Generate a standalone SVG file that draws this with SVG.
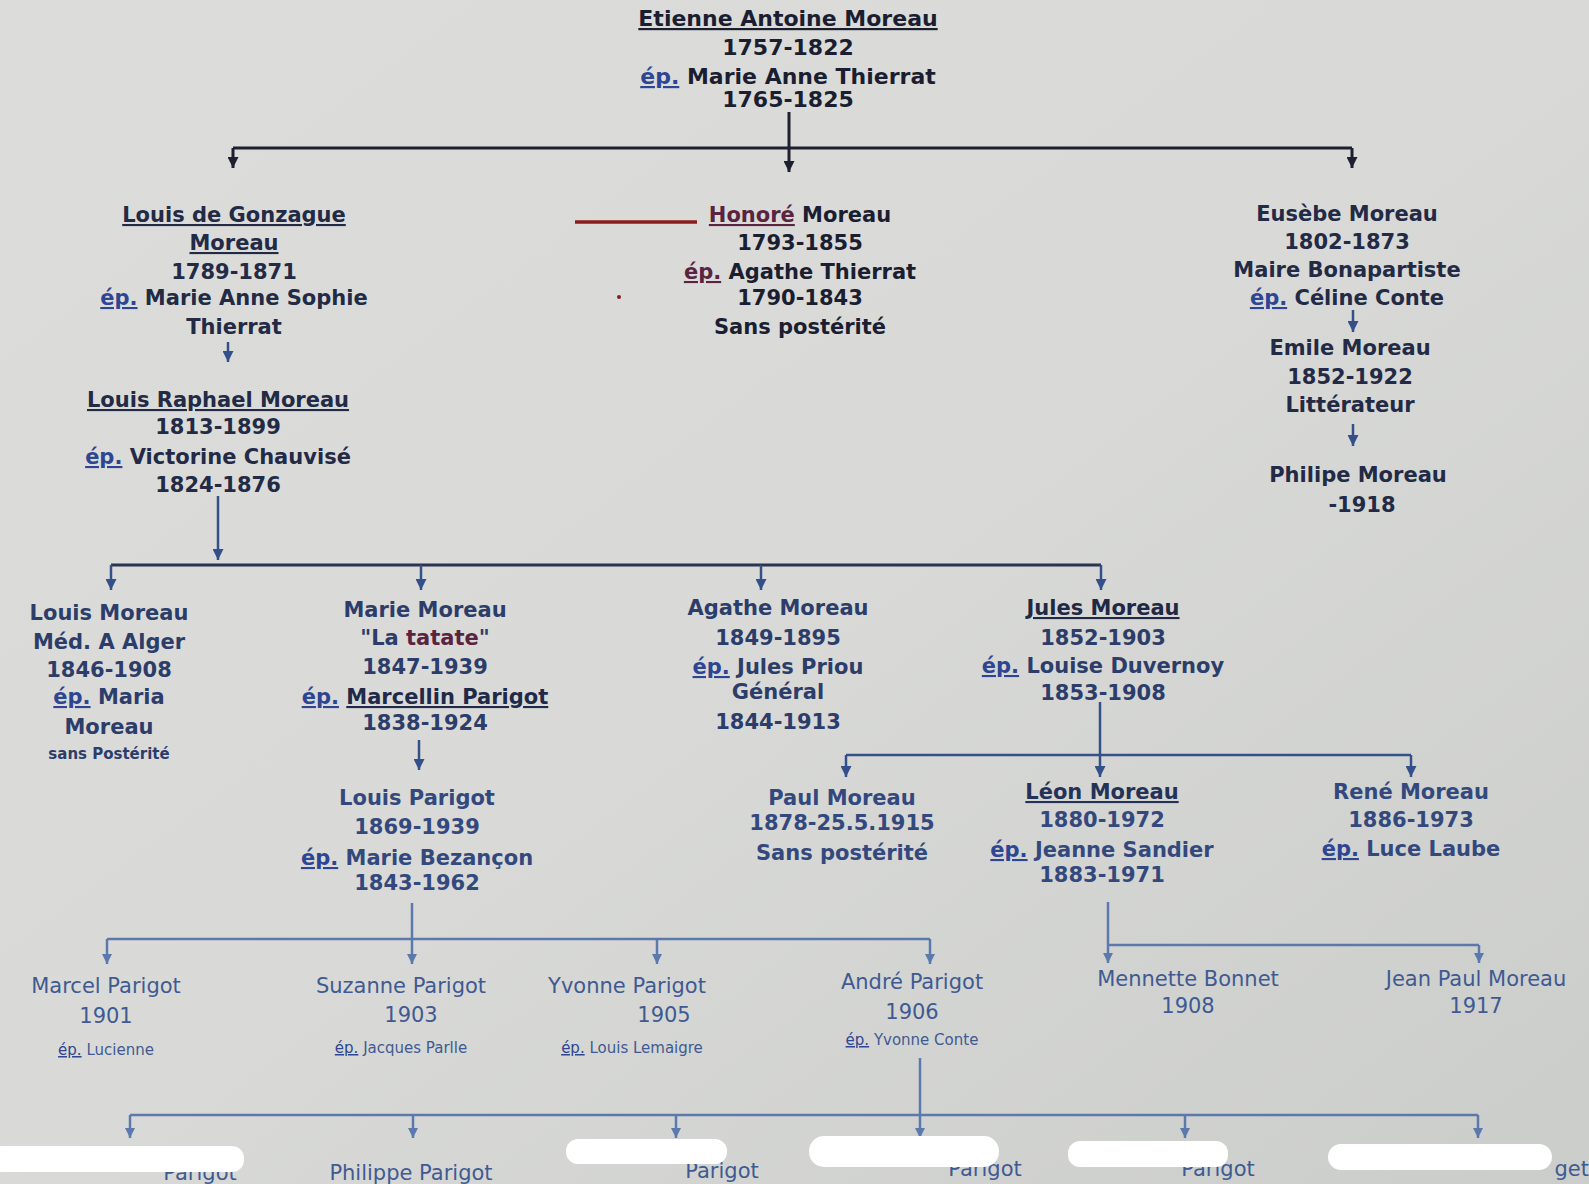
<svg xmlns="http://www.w3.org/2000/svg" width="1589" height="1184" viewBox="0 0 1589 1184">
<defs>
<linearGradient id="bg" x1="0" y1="0" x2="1" y2="1">
<stop offset="0" stop-color="#dcdddb"/>
<stop offset="0.5" stop-color="#d9dad7"/>
<stop offset="1" stop-color="#cbcdca"/>
</linearGradient>
<marker id="ad" viewBox="0 0 10 10" refX="5" refY="10" markerWidth="11" markerHeight="11" markerUnits="userSpaceOnUse">
<path d="M0,0 L10,0 L5,10 Z" fill="#1c2030"/>
</marker>
<marker id="ab" viewBox="0 0 10 10" refX="5" refY="10" markerWidth="11" markerHeight="11" markerUnits="userSpaceOnUse">
<path d="M0,0 L10,0 L5,10 Z" fill="#34508a"/>
</marker>
<marker id="al" viewBox="0 0 10 10" refX="5" refY="10" markerWidth="10" markerHeight="10" markerUnits="userSpaceOnUse">
<path d="M0,0 L10,0 L5,10 Z" fill="#5b79ad"/>
</marker>
</defs>
<style>
text{font-family:"DejaVu Sans","Liberation Sans",sans-serif;font-size:21px;font-weight:bold;text-anchor:middle;fill:#222a45}
.t1 text{fill:#1a1e30}
.big text{font-size:22px}
.t3 text{fill:#2c3d6a}
.t4 text{fill:#33497e}
.t5 text{fill:#3f5a92;font-weight:normal}
.sm{font-size:15px}
.u{text-decoration:underline}
.ep{fill:#2d4592;text-decoration:underline}
.red{fill:#5a2440}
.cd{fill:none;stroke:#1c2030;stroke-width:3}
.cb{fill:none;stroke:#34508a;stroke-width:2.5}
.cl{fill:none;stroke:#5b79ad;stroke-width:2.5}
.blob{fill:#ffffff}
</style>
<rect width="1589" height="1184" fill="url(#bg)"/>

<g id="connectors">
<path class="cd" d="M233,148 H1352"/>
<path class="cd" d="M789,112 V172" marker-end="url(#ad)"/>
<path class="cd" d="M233,148 V168" marker-end="url(#ad)"/>
<path class="cd" d="M1352,148 V168" marker-end="url(#ad)"/>
<path class="cb" d="M228,342 V362" marker-end="url(#ab)"/>
<path class="cb" d="M1353,310 V332" marker-end="url(#ab)"/>
<path class="cb" d="M1353,424 V446" marker-end="url(#ab)"/>
<path class="cb" d="M218,496 V560" marker-end="url(#ab)"/>
<path class="cd" style="stroke:#2a3350" d="M111,565 H1101"/>
<path class="cb" d="M111,565 V590" marker-end="url(#ab)"/>
<path class="cb" d="M421,565 V590" marker-end="url(#ab)"/>
<path class="cb" d="M761,565 V590" marker-end="url(#ab)"/>
<path class="cb" d="M1101,565 V590" marker-end="url(#ab)"/>
<path class="cb" d="M419,740 V770" marker-end="url(#ab)"/>
<path class="cb" d="M1100,702 V777" marker-end="url(#ab)"/>
<path class="cb" d="M846,755 H1411"/>
<path class="cb" d="M846,755 V777" marker-end="url(#ab)"/>
<path class="cb" d="M1411,755 V777" marker-end="url(#ab)"/>
<path class="cl" d="M412,903 V964" marker-end="url(#al)"/>
<path class="cl" d="M107,939 H930"/>
<path class="cl" d="M107,939 V964" marker-end="url(#al)"/>
<path class="cl" d="M657,939 V964" marker-end="url(#al)"/>
<path class="cl" d="M930,939 V964" marker-end="url(#al)"/>
<path class="cl" d="M1108,902 V963" marker-end="url(#al)"/>
<path class="cl" d="M1108,945 H1479"/>
<path class="cl" d="M1479,945 V963" marker-end="url(#al)"/>
<path class="cl" d="M920,1058 V1138" marker-end="url(#al)"/>
<path class="cl" d="M130,1115 H1478"/>
<path class="cl" d="M130,1115 V1138" marker-end="url(#al)"/>
<path class="cl" d="M413,1115 V1138" marker-end="url(#al)"/>
<path class="cl" d="M676,1115 V1138" marker-end="url(#al)"/>
<path class="cl" d="M1185,1115 V1138" marker-end="url(#al)"/>
<path class="cl" d="M1478,1115 V1138" marker-end="url(#al)"/>
<path d="M575,222 H697" stroke="#8a1c1c" stroke-width="3.5" fill="none"/>
<circle cx="619" cy="297" r="2" fill="#8a1c1c"/>
</g>

<g id="etienne" class="t1 big">
<text x="788" y="26" class="u">Etienne Antoine Moreau</text>
<text x="788" y="55">1757-1822</text>
<text x="788" y="84"><tspan class="ep">ép.</tspan> Marie Anne Thierrat</text>
<text x="788" y="107">1765-1825</text>
</g>

<g id="louis-gonzague">
<text x="234" y="222" class="u">Louis de Gonzague</text>
<text x="234" y="250" class="u">Moreau</text>
<text x="234" y="279">1789-1871</text>
<text x="234" y="305"><tspan class="ep">ép.</tspan> Marie Anne Sophie</text>
<text x="234" y="334">Thierrat</text>
</g>

<g id="louis-raphael">
<text x="218" y="407" class="u">Louis Raphael Moreau</text>
<text x="218" y="434">1813-1899</text>
<text x="218" y="464"><tspan class="ep">ép.</tspan> Victorine Chauvisé</text>
<text x="218" y="492">1824-1876</text>
</g>

<g id="honore" class="t1">
<text x="800" y="222"><tspan class="red u">Honoré</tspan> Moreau</text>
<text x="800" y="250">1793-1855</text>
<text x="800" y="279"><tspan class="red u">ép.</tspan> Agathe Thierrat</text>
<text x="800" y="305">1790-1843</text>
<text x="800" y="334">Sans postérité</text>
</g>

<g id="eusebe">
<text x="1347" y="221">Eusèbe Moreau</text>
<text x="1347" y="249">1802-1873</text>
<text x="1347" y="277">Maire Bonapartiste</text>
<text x="1347" y="305"><tspan class="ep">ép.</tspan> Céline Conte</text>
</g>

<g id="emile">
<text x="1350" y="355">Emile Moreau</text>
<text x="1350" y="384">1852-1922</text>
<text x="1350" y="412">Littérateur</text>
</g>

<g id="philipe">
<text x="1358" y="482">Philipe Moreau</text>
<text x="1362" y="512">-1918</text>
</g>

<g id="louis-moreau" class="t3">
<text x="109" y="620">Louis Moreau</text>
<text x="109" y="649">Méd. A Alger</text>
<text x="109" y="677">1846-1908</text>
<text x="109" y="704"><tspan class="ep">ép.</tspan> Maria</text>
<text x="109" y="734">Moreau</text>
<text x="109" y="759" class="sm">sans Postérité</text>
</g>

<g id="marie-moreau" class="t3">
<text x="425" y="617">Marie Moreau</text>
<text x="425" y="645">"La <tspan class="red">tatate</tspan>"</text>
<text x="425" y="674">1847-1939</text>
<text x="425" y="704"><tspan class="ep">ép.</tspan> <tspan class="u" style="fill:#1f2a4a">Marcellin Parigot</tspan></text>
<text x="425" y="730">1838-1924</text>
</g>

<g id="agathe-moreau" class="t3">
<text x="778" y="615">Agathe Moreau</text>
<text x="778" y="645">1849-1895</text>
<text x="778" y="674"><tspan class="ep">ép.</tspan> Jules Priou</text>
<text x="778" y="699">Général</text>
<text x="778" y="729">1844-1913</text>
</g>

<g id="jules-moreau" class="t3">
<text x="1103" y="615" class="u" style="fill:#1f2845">Jules Moreau</text>
<text x="1103" y="645">1852-1903</text>
<text x="1103" y="673"><tspan class="ep">ép.</tspan> Louise Duvernoy</text>
<text x="1103" y="700">1853-1908</text>
</g>

<g id="louis-parigot" class="t4">
<text x="417" y="805">Louis Parigot</text>
<text x="417" y="834">1869-1939</text>
<text x="417" y="865"><tspan class="ep">ép.</tspan> Marie Bezançon</text>
<text x="417" y="890">1843-1962</text>
</g>

<g id="paul-moreau" class="t4">
<text x="842" y="805">Paul Moreau</text>
<text x="842" y="830">1878-25.5.1915</text>
<text x="842" y="860">Sans postérité</text>
</g>

<g id="leon-moreau" class="t4">
<text x="1102" y="799" class="u" style="fill:#243258">Léon Moreau</text>
<text x="1102" y="827">1880-1972</text>
<text x="1102" y="857"><tspan class="ep">ép.</tspan> Jeanne Sandier</text>
<text x="1102" y="882">1883-1971</text>
</g>

<g id="rene-moreau" class="t4">
<text x="1411" y="799">René Moreau</text>
<text x="1411" y="827">1886-1973</text>
<text x="1411" y="856"><tspan class="ep">ép.</tspan> Luce Laube</text>
</g>

<g id="marcel-parigot" class="t5">
<text x="106" y="993">Marcel Parigot</text>
<text x="106" y="1023">1901</text>
<text x="106" y="1055" class="sm"><tspan class="ep">ép.</tspan> Lucienne</text>
</g>

<g id="suzanne-parigot" class="t5">
<text x="401" y="993">Suzanne Parigot</text>
<text x="411" y="1022">1903</text>
<text x="401" y="1053" class="sm"><tspan class="ep">ép.</tspan> Jacques Parlle</text>
</g>

<g id="yvonne-parigot" class="t5">
<text x="627" y="993">Yvonne Parigot</text>
<text x="664" y="1022">1905</text>
<text x="632" y="1053" class="sm"><tspan class="ep">ép.</tspan> Louis Lemaigre</text>
</g>

<g id="andre-parigot" class="t5">
<text x="912" y="989">André Parigot</text>
<text x="912" y="1019">1906</text>
<text x="912" y="1045" class="sm"><tspan class="ep">ép.</tspan> Yvonne Conte</text>
</g>

<g id="mennette-bonnet" class="t5">
<text x="1188" y="986">Mennette Bonnet</text>
<text x="1188" y="1013">1908</text>
</g>

<g id="jean-paul-moreau" class="t5">
<text x="1476" y="986">Jean Paul Moreau</text>
<text x="1476" y="1013">1917</text>
</g>

<g id="bottom-row" class="t5">
<text x="200" y="1180">Parigot</text>
<text x="411" y="1180">Philippe Parigot</text>
<text x="722" y="1178">Parigot</text>
<text x="985" y="1176">Parigot</text>
<text x="1218" y="1176">Parigot</text>
<text x="1589" y="1176" style="text-anchor:end">get</text>
</g>

<g id="masks">
<rect class="blob" x="-10" y="1146" width="254" height="26" rx="12"/>
<rect class="blob" x="566" y="1139" width="161" height="25" rx="12"/>
<rect class="blob" x="809" y="1136" width="190" height="31" rx="15"/>
<rect class="blob" x="1068" y="1141" width="160" height="26" rx="12"/>
<rect class="blob" x="1328" y="1144" width="224" height="26" rx="13"/>
</g>
</svg>
